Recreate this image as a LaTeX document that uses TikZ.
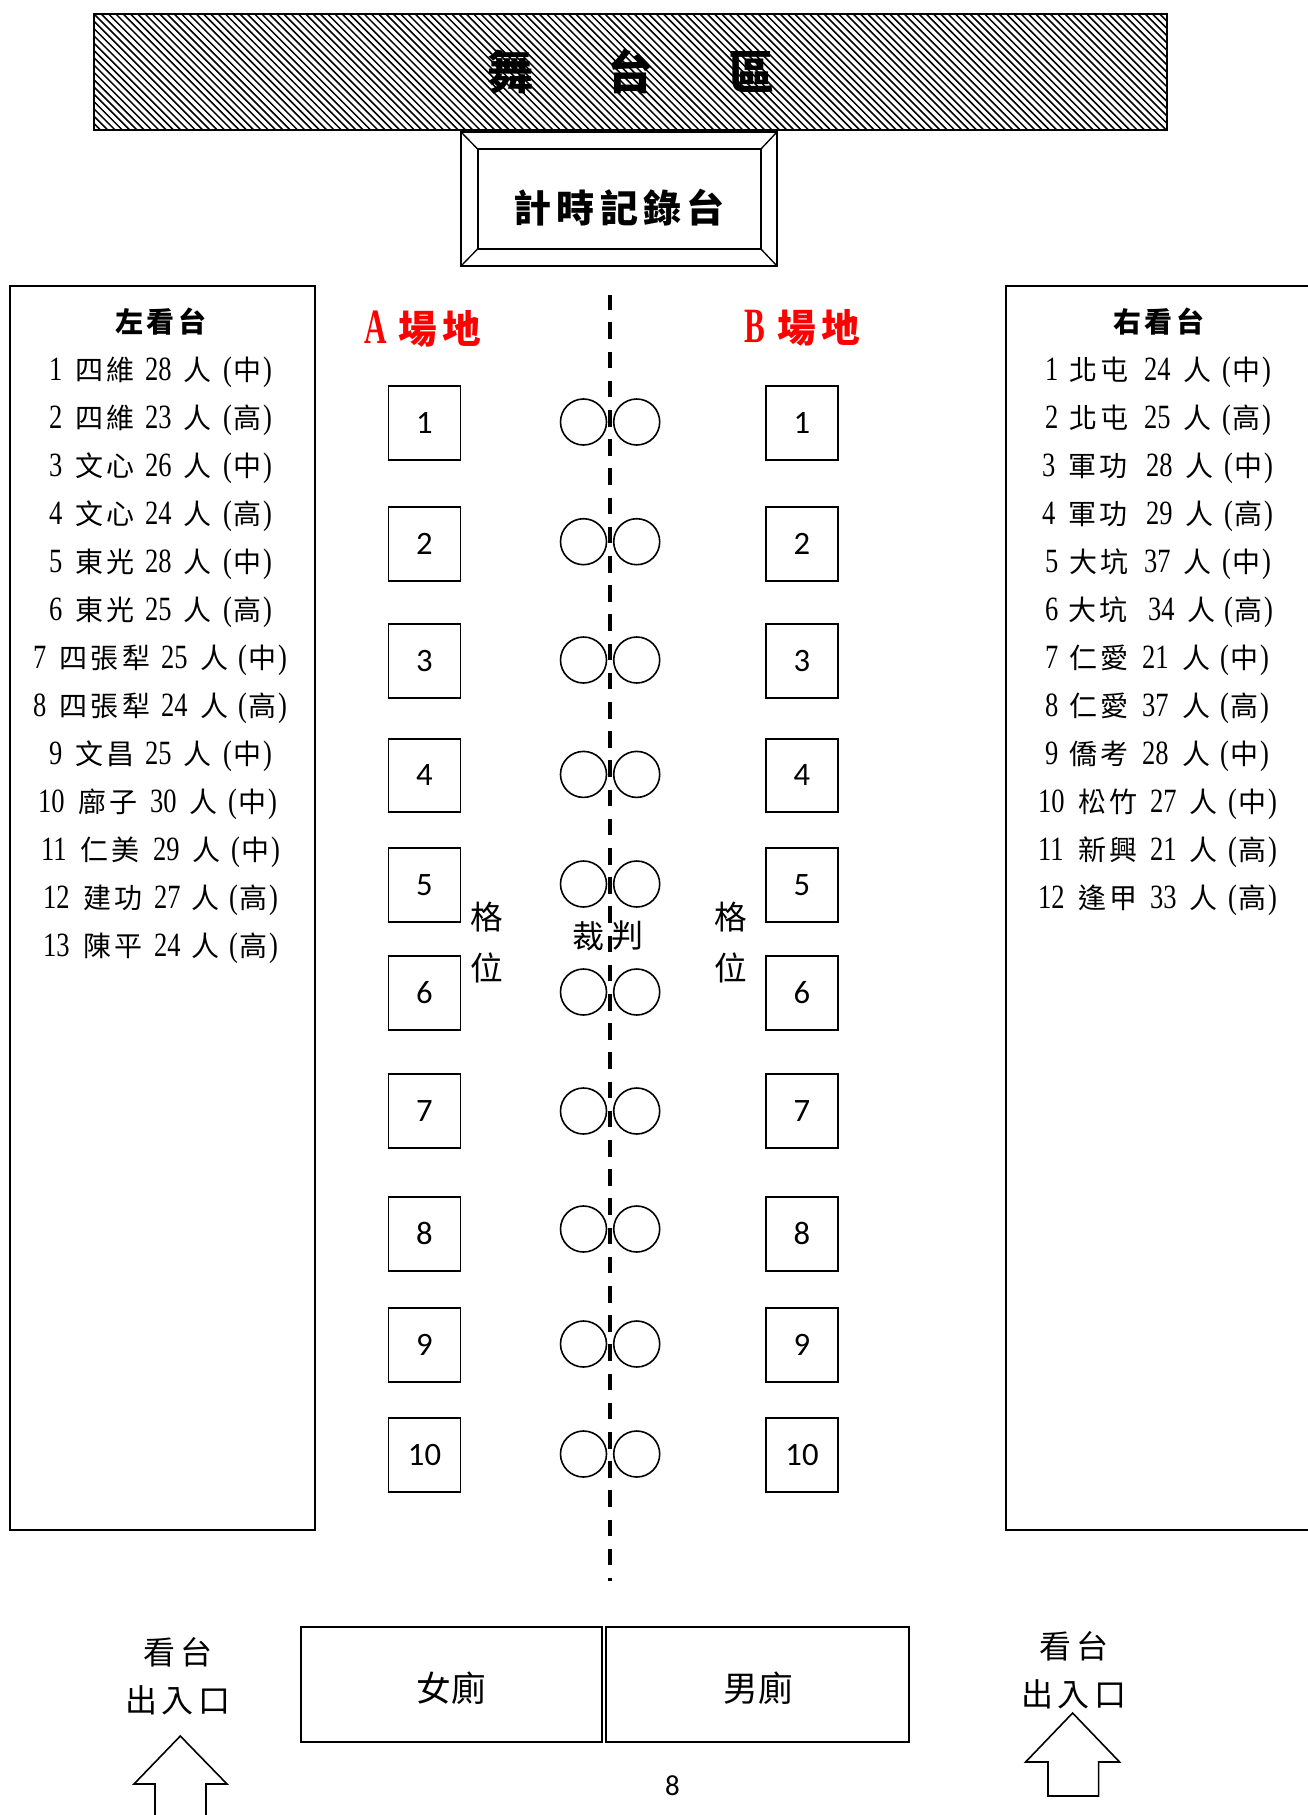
\documentclass[tikz,border=0pt]{standalone}
\usepackage{fontspec}
\setmainfont{Liberation Serif}
\newfontfamily\cjk{Noto Sans CJK TC}
\newfontfamily\cjkl[LetterSpace=14]{Noto Sans CJK TC}
\newfontfamily\latn[FakeStretch=0.78]{Liberation Serif}
\newfontfamily\latb[FakeStretch=0.63]{Liberation Serif Bold}
\newfontfamily\calfont{Carlito}
\definecolor{fieldred}{RGB}{255,0,0}
\newlength{\pxu}\setlength{\pxu}{0.75pt}
\def\setcols#1#2#3#4#5#6{\def\colx{#1}\def\offa{#2}\def\offb{#3}\def\offc{#4}\def\offd{#5}\def\colname{#6}}
\newcommand{\listrow}[5]{% index, num, name, count, level
  \pgfmathsetmacro{\rowy}{370+48*(#1-1)+10}
  \node[listtext] (\colname#1) at (\colx,\rowy) {%
    \fontsize{21pt}{24pt}\selectfont
    \makebox[\offa\pxu][l]{\fontsize{25.5pt}{24pt}\selectfont\latn #2}%
    \makebox[\offb\pxu][l]{\cjkl #3}%
    \makebox[\offc\pxu][l]{\fontsize{25.5pt}{24pt}\selectfont\latn #4}%
    \makebox[\offd\pxu][l]{\cjk 人}%
    {\fontsize{25.5pt}{24pt}\selectfont\latn(}\kern1.2pt{\cjk #5}\kern1.2pt{\fontsize{25.5pt}{24pt}\selectfont\latn)}};
}
\tikzset{
  x=0.75pt,y=-0.75pt,
  boxline/.style={draw=black,line width=1.5pt,fill=none},
  listtext/.style={anchor=base west,inner sep=0pt,outer sep=0pt,text=black},
  seat/.style={draw=black,line width=1.4pt,rectangle,minimum width=54pt,minimum height=55pt,inner sep=0pt,outer sep=0pt,font=\calfont\fontsize{24.5pt}{26pt}\selectfont},
  refcircle/.style={draw=black,line width=1.2pt,circle,minimum size=34.5pt,inner sep=0pt,outer sep=0pt,fill=white},
  lab/.style={inner sep=0pt,outer sep=0pt,text=black,align=center},
  arrowline/.style={draw=black,line width=1.2pt,line join=miter},
  midline/.style={draw=black,line width=3.4pt,dash pattern=on 12.5pt off 9.4pt,dash phase=1.4pt},
  wcbox/.style={draw=black,line width=1.1pt,rectangle,minimum height=86pt,inner sep=0pt,outer sep=0pt},
}
\begin{document}
\begin{tikzpicture}
\useasboundingbox (0,0) rectangle (1308,1815);
% stage
\begin{scope}
  \clip (94,14) rectangle (1167,130);
  \foreach \k in {-20,...,150}{
    \draw[black,line width=1.15pt] ({94+7.3*\k},14) -- ({94+7.3*\k+116},130);
  }
\end{scope}
\node[boxline,rectangle,minimum width=804.75pt,minimum height=87pt,inner sep=0pt,outer sep=0pt] (stage) at (630.5,72) {};
\node[lab,font=\cjk\bfseries\fontsize{34.5pt}{36pt}\selectfont] (stagetext) at (631,72) {舞\hspace*{55.9pt}台\hspace*{55.9pt}區};
% timing desk
\node[draw=black,line width=1.4pt,rectangle,minimum width=237pt,minimum height=100.5pt,inner sep=0pt,outer sep=0pt] (deskout) at (619,199) {};
\node[draw=black,line width=1.4pt,rectangle,minimum width=212.5pt,minimum height=75pt,inner sep=0pt,outer sep=0pt] (deskin) at (619.25,199) {};
\node[lab,font=\cjkl\bfseries\fontsize{28.5pt}{30pt}\selectfont] (desktext) at (619.25,208) {計時記錄台};
\foreach \c in {north west,north east,south west,south east}{
  \draw[black,line width=1pt] (deskout.\c) -- (deskin.\c);
}
% stands
\draw[boxline] (10,286) rectangle (315,1530);
\draw[boxline] (1310,286) -- (1006,286) -- (1006,1530) -- (1310,1530);
\node[lab,font=\cjkl\bfseries\fontsize{21pt}{24pt}\selectfont] (lefttitle) at (161,322) {左看台};
\node[lab,font=\cjkl\bfseries\fontsize{21pt}{24pt}\selectfont] (righttitle) at (1159,322) {右看台};
% left list
\setcols{49}{26}{70}{38}{40}{L}
\listrow{1}{1}{四維}{28}{中}
\listrow{2}{2}{四維}{23}{高}
\listrow{3}{3}{文心}{26}{中}
\listrow{4}{4}{文心}{24}{高}
\listrow{5}{5}{東光}{28}{中}
\listrow{6}{6}{東光}{25}{高}
\listrow{9}{9}{文昌}{25}{中}
\setcols{33}{26}{102}{39}{38}{L}
\listrow{7}{7}{四張犁}{25}{中}
\listrow{8}{8}{四張犁}{24}{高}
\setcols{38}{40}{72}{39}{39}{L}
\listrow{10}{10}{廍子}{30}{中}
\setcols{41}{39}{73}{39}{39}{L}
\listrow{11}{11}{仁美}{29}{中}
\setcols{43}{40}{71}{37}{38}{L}
\listrow{12}{12}{建功}{27}{高}
\listrow{13}{13}{陳平}{24}{高}
% right list
\setcols{1045}{24}{75}{39}{39}{R}
\listrow{1}{1}{北屯}{24}{中}
\listrow{2}{2}{北屯}{25}{高}
\listrow{5}{5}{大坑}{37}{中}
\setcols{1042}{26}{78}{39}{39}{R}
\listrow{3}{3}{軍功}{28}{中}
\listrow{4}{4}{軍功}{29}{高}
\setcols{1045}{23}{80}{39}{37}{R}
\listrow{6}{6}{大坑}{34}{高}
\setcols{1045}{24}{73}{40}{38}{R}
\listrow{7}{7}{仁愛}{21}{中}
\listrow{8}{8}{仁愛}{37}{高}
\listrow{9}{9}{僑考}{28}{中}
\setcols{1038}{40}{72}{39}{39}{R}
\listrow{10}{10}{松竹}{27}{中}
\listrow{11}{11}{新興}{21}{高}
\listrow{12}{12}{逢甲}{33}{高}
% field headings
\node[listtext,text=fieldred] (fieldA) at (364,344) {{\latb\fontsize{37pt}{40pt}\selectfont A}\kern9pt{\cjkl\bfseries\fontsize{29pt}{30pt}\selectfont 場地}};
\node[listtext,text=fieldred] (fieldB) at (744,342) {{\latb\fontsize{37pt}{40pt}\selectfont B}\kern9.5pt{\cjkl\bfseries\fontsize{29pt}{30pt}\selectfont 場地}};
% centre line
\coordinate (linetop) at (610,295);
\coordinate (linebot) at (610,1581);
\draw[midline] (linetop) -- (linebot);
% seats and referees
\foreach \i/\ys/\yc in {1/423/422,2/544/541.7,3/661/660,4/775.5/774.4,5/885/884,6/993/992,7/1111/1111,8/1234/1229,9/1345/1344,10/1455/1454}{
  \node[seat] (sa\i) at (424.5,\ys) {\raisebox{0.6pt}{\i}};
  \node[seat] (sb\i) at (802,\ys) {\raisebox{0.6pt}{\i}};
  \node[refcircle] (ca\i) at (583.5,\yc) {};
  \node[refcircle] (cb\i) at (636.7,\yc) {};
}
% labels between seats
\node[lab,font=\cjk\fontsize{24.5pt}{28pt}\selectfont] (gea) at (487,917) {格};
\node[lab,font=\cjk\fontsize{24.5pt}{28pt}\selectfont] (wea) at (487,968) {位};
\node[lab,font=\cjk\fontsize{24.5pt}{28pt}\selectfont] (geb) at (731,917) {格};
\node[lab,font=\cjk\fontsize{24.5pt}{28pt}\selectfont] (web) at (731,968) {位};
\node[lab,font=\cjk\fontsize{24pt}{28pt}\selectfont] (cai) at (588,936) {裁};
\node[lab,font=\cjk\fontsize{24pt}{28pt}\selectfont] (pan) at (627,936) {判};
% toilets
\node[wcbox,minimum width=226pt] (wc1) at (451.5,1684.5) {};
\node[wcbox,minimum width=227pt] (wc2) at (757.5,1684.5) {};
\node[lab,font=\cjk\fontsize{26pt}{28pt}\selectfont] (wc1text) at (451,1688) {女廁};
\node[lab,font=\cjk\fontsize{26pt}{28pt}\selectfont] (wc2text) at (758,1688) {男廁};
% entrances
\node[lab,font=\cjkl\fontsize{24pt}{26pt}\selectfont] (ent1a) at (178,1652) {看台};
\node[lab,font=\cjkl\fontsize{24pt}{26pt}\selectfont] (ent1b) at (178,1700) {出入口};
\node[lab,font=\cjkl\fontsize{24pt}{26pt}\selectfont] (ent2a) at (1074,1646) {看台};
\node[lab,font=\cjkl\fontsize{24pt}{26pt}\selectfont] (ent2b) at (1074,1694) {出入口};
\draw[arrowline] (155,1817) -- (155,1784) -- (134,1784) -- (180.3,1736) -- (227,1784) -- (206,1784) -- (206,1817);
\draw[arrowline] (1048,1796) -- (1048,1762) -- (1025.6,1762) -- (1072.6,1713) -- (1119.6,1762) -- (1098.6,1762) -- (1098.6,1796) -- cycle;
% page number
\node[lab,font=\calfont\fontsize{21.75pt}{24pt}\selectfont] (pageno) at (672.5,1786) {8};
\end{tikzpicture}
\end{document}
